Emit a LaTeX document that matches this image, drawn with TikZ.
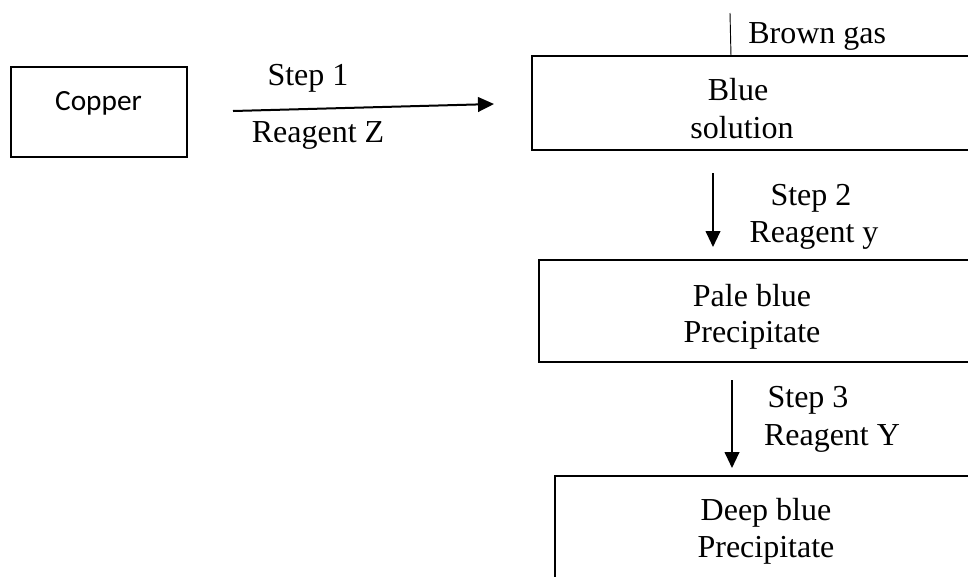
\documentclass[tikz,border=0pt]{standalone}
\usepackage{fontspec}
\setmainfont{Liberation Serif}
\newfontfamily\calfont{Carlito}
\usetikzlibrary{arrows.meta}
\begin{document}
\begin{tikzpicture}[x=0.75pt,y=-0.75pt,
  box/.style={draw,line width=2pt,inner sep=0pt,outer sep=0pt},
  lbl/.style={anchor=base,inner sep=0pt,font=\fontsize{24pt}{28pt}\selectfont},
  flow/.style={line width=1.5pt,-{Triangle[length=12pt,width=11pt]}}]
\useasboundingbox (0,0) rectangle (968,576);
\clip (0,0) rectangle (968,576);
\fill[white] (0,0) rectangle (968,576);
% boxes
\node[box,minimum width=132pt,minimum height=67.5pt] (copper) at (99,112) {};
\node[box,minimum width=332.25pt,minimum height=70.5pt] (blue) at (753.5,103) {};
\node[box,minimum width=327pt,minimum height=76.5pt] (pale) at (757,311) {};
\node[box,minimum width=315pt,minimum height=85.5pt] (deep) at (765,533) {};
% texts
\node[lbl,font=\fontsize{22pt}{26pt}\calfont] (tcopper) at (98.5,110) {Copper};
\node[lbl] (tstep1) at (308,85) {Step 1};
\node[lbl] (treagz) at (318,142) {Reagent Z};
\node[lbl,anchor=base west] (tbrown) at (748,43) {Brown gas};
\node[lbl] (tblue1) at (738,100) {Blue};
\node[lbl] (tblue2) at (742,138) {solution};
\node[lbl] (tstep2) at (811,205) {Step 2};
\node[lbl] (treagy) at (814,242) {Reagent y};
\node[lbl] (tpale1) at (752,306) {Pale blue};
\node[lbl] (tpale2) at (752,342) {Precipitate};
\node[lbl] (tstep3) at (808,407) {Step 3};
\node[lbl] (treagY) at (832,445) {Reagent Y};
\node[lbl] (tdeep1) at (766,520) {Deep blue};
\node[lbl] (tdeep2) at (766,557) {Precipitate};
% connectors
\coordinate (a1s) at (233,111);
\coordinate (a1e) at (494,104);
\coordinate (a2s) at (713,173);
\coordinate (a2e) at (713,247);
\coordinate (a3s) at (732,380);
\coordinate (a3e) at (732,468);
\coordinate (gs) at (730,13);
\draw[flow] (a1s) -- (a1e);
\draw[flow] (a2s) -- (a2e);
\draw[flow] (a3s) -- (a3e);
\draw[line width=0.7pt] (gs) -- (blue.north -| 731,0);
\end{tikzpicture}
\end{document}
